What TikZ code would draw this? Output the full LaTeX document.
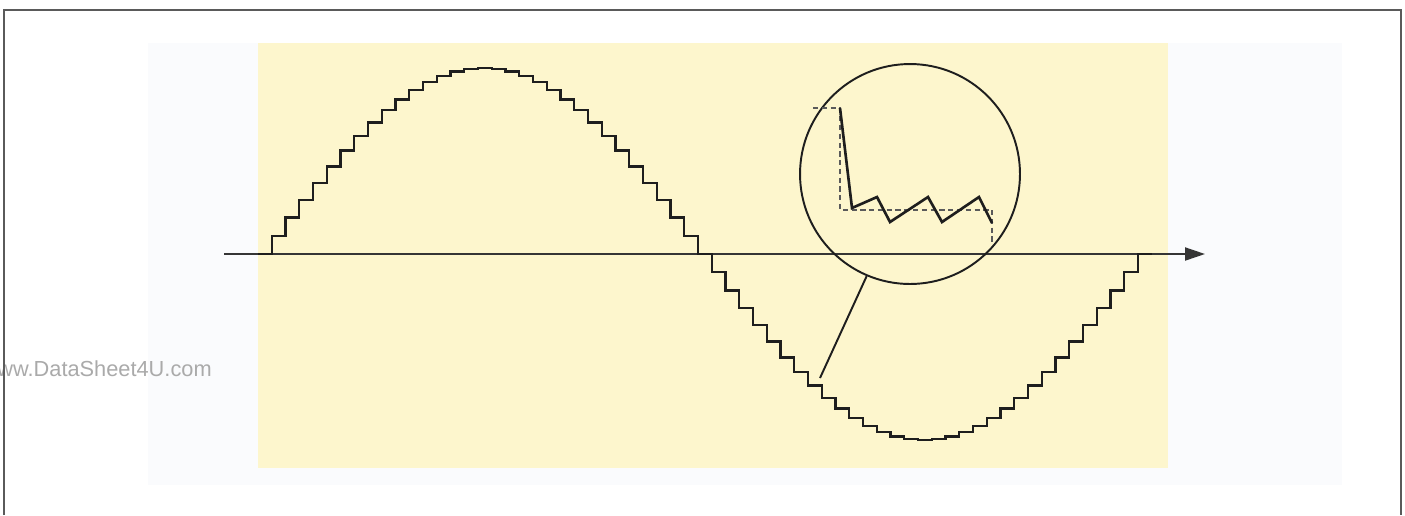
\documentclass[tikz,border=0pt]{standalone}
\usepackage{fontspec}
\usepackage{xcolor}
\usetikzlibrary{arrows.meta}
\newfontfamily\wmfont{Liberation Sans}
\definecolor{panelwhite}{RGB}{250,251,253}
\definecolor{panelyellow}{RGB}{253,246,205}
\definecolor{framegrey}{RGB}{90,90,90}
\definecolor{wmgrey}{RGB}{170,170,170}
\definecolor{stepink}{RGB}{30,30,30}

\begin{document}
\begin{tikzpicture}[x=0.02cm,y=-0.02cm,
  frame/.style={framegrey,line width=1.2pt},
  axisline/.style={stepink!90,line width=1.1pt,-{Triangle[length=0.4cm,width=0.26cm]}},
  wave/.style={stepink,line width=1.4pt,line join=miter},
  lens/.style={draw=stepink,circle,line width=1.1pt,minimum size=4.4cm,inner sep=0pt},
  ideal/.style={framegrey,line width=0.9pt,dash pattern=on 3pt off 2pt},
  real/.style={stepink,line width=1.5pt,line join=miter}]
  \useasboundingbox (0,0) rectangle (1405,515);
  \fill[white] (0,0) rectangle (1405,515);
  \fill[panelwhite] (148,43) rectangle (1342,485);
  \fill[panelyellow] (258,43) rectangle (1168,468);
  \node[anchor=west,inner sep=0pt,text=wmgrey,font=\wmfont\fontsize{12.4}{14}\selectfont] (mark) at (-3,369) {ww.DataSheet4U.com};
  \draw[frame] (4,515) -- (4,10) -- (1401,10) -- (1401,515);
  % time axis
  \coordinate (axstart) at (224,254);
  \coordinate (axend) at (1205,254);
  \draw[axisline] (axstart) -- (axend);
  % sampled sine, 64 steps
  \draw[wave] (258,254) foreach \k in {1,...,64} {
    -- ({258+\k*13.75},{254-186*sin((\k-1)*5.625)})
    -- ({258+\k*13.75},{254-186*sin(\k*5.625)}) } -- (1152,254);
  % magnifier
  \node[lens] (lens) at (910,174) {};
  \coordinate (tap) at (820,378);
  \draw[stepink,line width=1.1pt] (lens.247) -- (tap);
  \draw[ideal] (813,108) -- (840,108) -- (840,210) -- (992,210) -- (992,243);
  \draw[real] (840,108) -- (852,208) -- (877,197) -- (890,222) -- (928,197)
    -- (942,222) -- (979,197) -- (992,223);
\end{tikzpicture}
\end{document}
